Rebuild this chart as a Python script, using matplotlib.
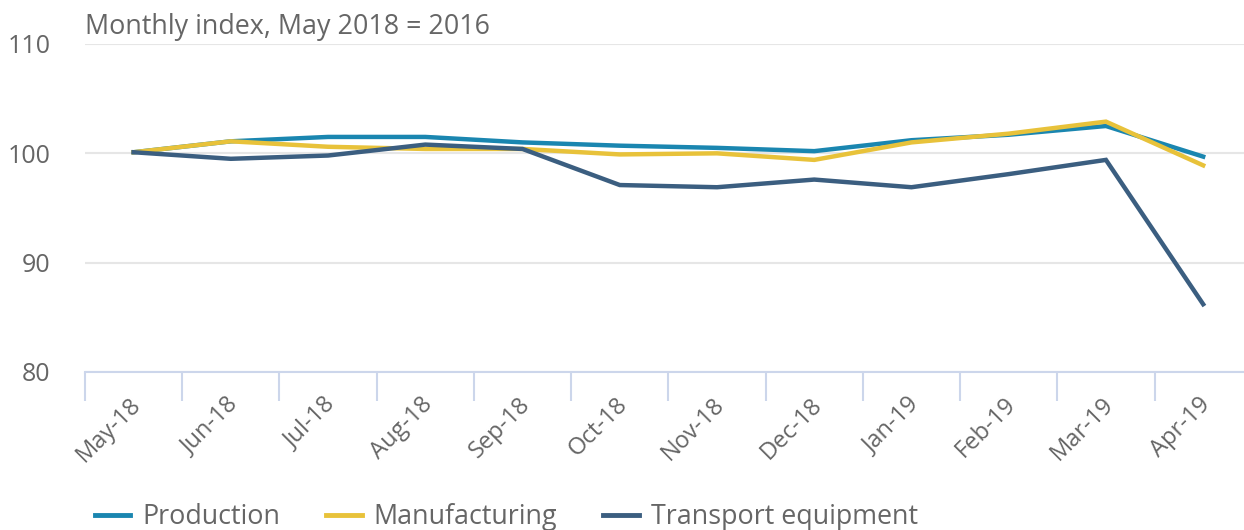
import matplotlib
matplotlib.use("Agg")
import matplotlib.pyplot as plt
from matplotlib.lines import Line2D

months = ["May-18", "Jun-18", "Jul-18", "Aug-18", "Sep-18", "Oct-18",
          "Nov-18", "Dec-18", "Jan-19", "Feb-19", "Mar-19", "Apr-19"]
production = [100.1, 101.1, 101.5, 101.5, 101.0, 100.7, 100.5, 100.2, 101.2, 101.7, 102.5, 99.7]
manufacturing = [100.1, 101.1, 100.6, 100.4, 100.4, 99.9, 100.0, 99.4, 101.0, 101.8, 102.9, 98.9]
transport = [100.1, 99.5, 99.8, 100.8, 100.4, 97.1, 96.9, 97.6, 96.9, 98.1, 99.4, 86.2]
series_names = ["Production", "Manufacturing", "Transport equipment"]
colors = ["#1a86b0", "#e8c23a", "#3b5e80"]
yticks = [80, 90, 100, 110]

plt.rcParams['font.family'] = ['Open Sans', 'DejaVu Sans']
TXT = "#666666"

fig = plt.figure(figsize=(12.44, 5.30), dpi=100)
ax = fig.add_axes([85/1244, 1 - 372/530, 1 - 85/1244, (372 - 44)/530])

x = list(range(len(months)))
for vals, c, n in zip([production, manufacturing, transport], colors, series_names):
    ax.plot(x, vals, color=c, lw=3.2, label=n, solid_joinstyle='miter', zorder=3)

ax.set_ylim(80, 110)
ax.set_xlim(-0.5, 11.42)
ax.set_yticks(yticks)
ax.set_yticklabels([str(v) for v in yticks], fontsize=18, color=TXT)
ax.tick_params(axis='y', length=0, pad=25)
for lab in ax.get_yticklabels():
    lab.set_horizontalalignment('right')
ax.yaxis.grid(True, color="#e6e6e6", lw=1.5, zorder=0)
ax.set_axisbelow(True)

# category boundaries as major ticks, labels at centers as minor ticks
ax.set_xticks([i - 0.5 for i in range(len(months))])
ax.set_xticklabels([])
ax.tick_params(axis='x', which='major', length=21, width=1.5, color="#ccd6eb")
ax.set_xticks(x, minor=True)
ax.set_xticklabels(months, minor=True, rotation=45, ha='right', va='center',
                   rotation_mode='anchor', fontsize=17, color=TXT)
ax.tick_params(axis='x', which='minor', length=0, pad=21)
for lab in ax.get_xticklabels(minor=True):
    lab.set_transform(lab.get_transform() + matplotlib.transforms.ScaledTranslation(4/100, 0, fig.dpi_scale_trans))

for s in ['top', 'right', 'left']:
    ax.spines[s].set_visible(False)
ax.spines['bottom'].set_color("#ccd6eb")
ax.spines['bottom'].set_linewidth(1.5)

fig.text(85/1244, 1 - 27/530, "Monthly index, May 2018 = 2016", fontsize=19.4,
         color=TXT, ha='left', va='center')

handles = [Line2D([0], [0], color=c, lw=3.5) for c in colors]
leg = fig.legend(handles, series_names, loc='center left',
                 bbox_to_anchor=(95/1244, 1 - 517/530), ncol=3, frameon=False,
                 fontsize=19.4, handlelength=1.3, handletextpad=0.45, columnspacing=1.72,
                 borderpad=0, borderaxespad=0)
for t in leg.get_texts():
    t.set_color(TXT)

fig.savefig("out.png", dpi=100)
